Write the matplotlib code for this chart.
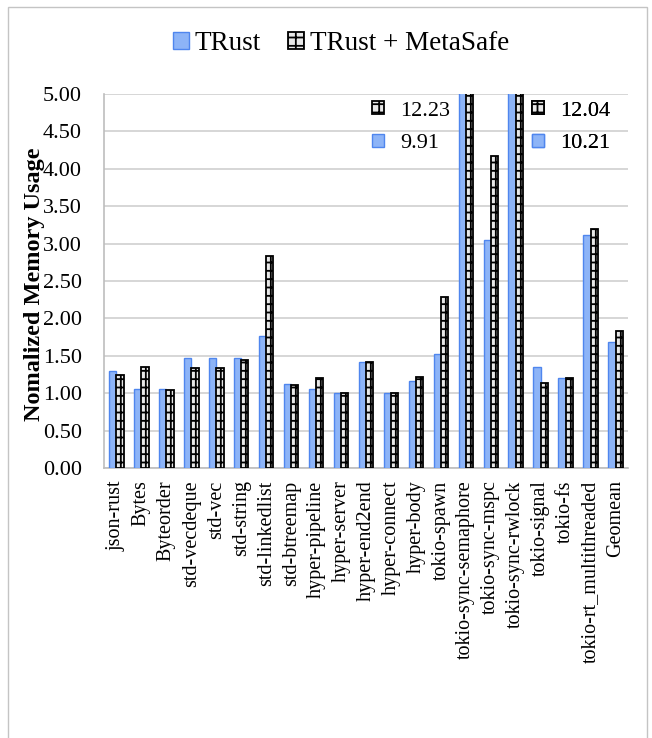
import matplotlib
matplotlib.use("Agg")
import matplotlib.pyplot as plt
import numpy as np
from matplotlib.patches import Patch, Rectangle

plt.rcParams["font.family"] = ["Liberation Serif", "DejaVu Serif"]
plt.rcParams["hatch.linewidth"] = 1.3

BENCHMARKS = [
    "json-rust", "Bytes", "Byteorder", "std-vecdeque", "std-vec", "std-string",
    "std-linkedlist", "std-btreemap", "hyper-pipeline", "hyper-server",
    "hyper-end2end", "hyper-connect", "hyper-body", "tokio-spawn",
    "tokio-sync-semaphore", "tokio-sync-mspc", "tokio-sync-rwlock",
    "tokio-signal", "tokio-fs", "tokio-rt_multithreaded", "Geomean",
]
TRUST = [1.29, 1.06, 1.05, 1.47, 1.47, 1.47, 1.76, 1.12, 1.06, 1.00,
         1.41, 1.00, 1.16, 1.53, 9.91, 3.05, 10.21, 1.35, 1.20, 3.12, 1.69]
TRUST_METASAFE = [1.24, 1.35, 1.04, 1.33, 1.33, 1.45, 2.84, 1.11, 1.20, 1.00,
                  1.41, 1.00, 1.22, 2.29, 12.23, 4.17, 12.04, 1.13, 1.20, 3.20, 1.83]
Y_MAX = 5.0

BLUE_FACE = "#8db4f7"
BLUE_EDGE = "#4f86ee"
HATCH_FACE = "#e8e8e8"

fig = plt.figure(figsize=(6.52, 7.38), dpi=100)
ax = fig.add_axes([0.1595, 0.3659, 0.8037, 0.5068])

x = np.arange(len(BENCHMARKS))
w = 0.29
ax.bar(x - w / 2, TRUST, w, color=BLUE_FACE, edgecolor=BLUE_EDGE, linewidth=1.0, zorder=3)
ax.bar(x + w / 2, TRUST_METASAFE, w, color=HATCH_FACE, edgecolor="black",
       linewidth=1.3, hatch="++", zorder=3)

ax.set_xlim(-0.5, len(BENCHMARKS) - 0.5)
ax.set_ylim(0, Y_MAX)
ax.set_yticks(np.arange(0, Y_MAX + 0.01, 0.5))
ax.yaxis.set_major_formatter(plt.FormatStrFormatter("%.2f"))
ax.set_xticks(x)
ax.set_xticklabels(BENCHMARKS, rotation=90, fontsize=14.5)
ax.tick_params(axis="y", length=0, pad=16, labelsize=16)
ax.tick_params(axis="x", length=0, pad=9)
ax.grid(axis="y", color="#cfcfcf", linewidth=1.2, zorder=0)
for side in ("top", "right"):
    ax.spines[side].set_visible(False)
for side in ("left", "bottom"):
    ax.spines[side].set_color("#bdbdbd")
    ax.spines[side].set_linewidth(1.2)

ax.set_ylabel("Nomalized Memory Usage", fontsize=17.5, fontweight="bold")
ax.yaxis.set_label_coords(-0.112, 0.49)

# clipped bars get their real values written next to them
hatch_handle = Patch(facecolor=HATCH_FACE, edgecolor="black", hatch="++", linewidth=1.3)
blue_handle = Patch(facecolor=BLUE_FACE, edgecolor=BLUE_EDGE, linewidth=1.0)
for idx, anchor in ((14, (0.495, 1.005)), (16, (0.8, 1.005))):
    vals = ax.legend([hatch_handle, blue_handle],
                     [f"{TRUST_METASAFE[idx]:.2f}", f"{TRUST[idx]:.2f}"],
                     loc="upper left", bbox_to_anchor=anchor, frameon=False,
                     fontsize=16, handlelength=0.55, handleheight=0.55,
                     handletextpad=0.7, labelspacing=0.6, borderaxespad=0.0)
    ax.add_artist(vals)

fig.legend([blue_handle, hatch_handle], ["TRust", "TRust + MetaSafe"],
           loc="center", bbox_to_anchor=(0.523, 0.941), ncol=2, frameon=False,
           fontsize=19.5, handlelength=0.6, handleheight=0.6, handletextpad=0.2,
           columnspacing=1.0)

fig.add_artist(Rectangle((8 / 652, -0.05), 639 / 652, 1.05 - 7 / 738,
                         transform=fig.transFigure, fill=False,
                         edgecolor="#c4c4c4", linewidth=1.0))

fig.savefig("out.png", dpi=100)
